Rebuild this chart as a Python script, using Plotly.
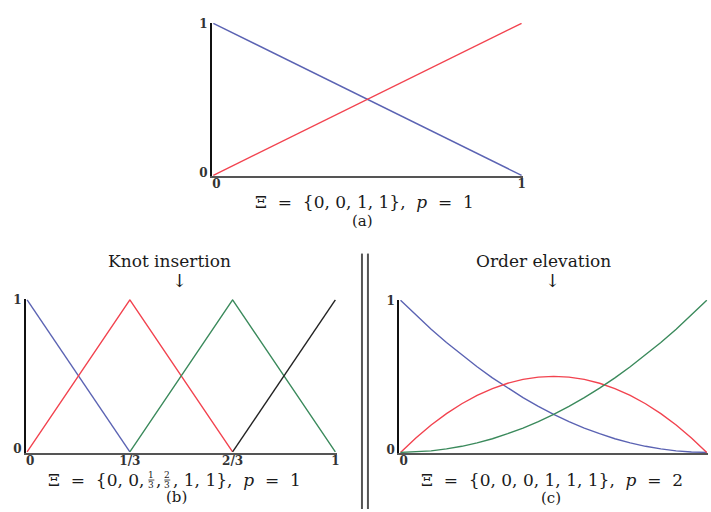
import plotly.graph_objects as go

W, H = 711, 512

# (a) linear basis on the knot vector {0, 0, 1, 1}
a_x = [0, 1]
a_n1 = [1, 0]
a_n2 = [0, 1]

# (b) linear basis after knot insertion at 1/3 and 2/3
b_n1_x, b_n1_y = [0, 1/3], [1, 0]
b_n2_x, b_n2_y = [0, 1/3, 2/3], [0, 1, 0]
b_n3_x, b_n3_y = [1/3, 2/3, 1], [0, 1, 0]
b_n4_x, b_n4_y = [2/3, 1], [0, 1]
b_ticks = [0, 1/3, 2/3, 1]
b_ticktext = ["0", "1/3", "2/3", "1"]

# (c) quadratic basis after order elevation
c_x = [0.00, 0.05, 0.10, 0.15, 0.20, 0.25, 0.30, 0.35, 0.40, 0.45, 0.50,
       0.55, 0.60, 0.65, 0.70, 0.75, 0.80, 0.85, 0.90, 0.95, 1.00]
c_n1 = [1.000, 0.903, 0.810, 0.723, 0.640, 0.563, 0.490, 0.423, 0.360, 0.303, 0.250,
        0.203, 0.160, 0.123, 0.090, 0.063, 0.040, 0.023, 0.010, 0.003, 0.000]
c_n2 = [0.000, 0.095, 0.180, 0.255, 0.320, 0.375, 0.420, 0.455, 0.480, 0.495, 0.500,
        0.495, 0.480, 0.455, 0.420, 0.375, 0.320, 0.255, 0.180, 0.095, 0.000]
c_n3 = [0.000, 0.003, 0.010, 0.023, 0.040, 0.063, 0.090, 0.123, 0.160, 0.203, 0.250,
        0.303, 0.360, 0.423, 0.490, 0.563, 0.640, 0.723, 0.810, 0.903, 1.000]

BLUE = "#5b63b3"
RED = "#f2434f"
GREEN = "#3b8a5c"
BLACK = "#222222"
SERIF = "DejaVu Serif, serif"


def px_x(p):
    return p / W


def px_y(p):
    return 1 - p / H


fig = go.Figure()


def add_line(x, y, color, ax):
    fig.add_trace(go.Scatter(
        x=x, y=y, mode="lines", xaxis=ax[0], yaxis=ax[1],
        line=dict(color=color, width=1.4),
        showlegend=False, hoverinfo="skip"))


add_line(a_x, a_n1, BLUE, ("x", "y"))
add_line(a_x, a_n2, RED, ("x", "y"))

add_line(b_n1_x, b_n1_y, BLUE, ("x2", "y2"))
add_line(b_n2_x, b_n2_y, RED, ("x2", "y2"))
add_line(b_n3_x, b_n3_y, GREEN, ("x2", "y2"))
add_line(b_n4_x, b_n4_y, BLACK, ("x2", "y2"))

add_line(c_x, c_n1, BLUE, ("x3", "y3"))
add_line(c_x, c_n2, RED, ("x3", "y3"))
add_line(c_x, c_n3, GREEN, ("x3", "y3"))

tickfont = dict(family=SERIF, size=12, color="#333333")
pad = 0.004


def xax(dom, anchor, tickvals, ticktext):
    return dict(domain=dom, anchor=anchor, range=[-pad, 1 + pad],
                showgrid=False, zeroline=False, showline=True,
                linecolor="#555555", linewidth=1.6, ticks="", ticklen=0,
                tickvals=tickvals, ticktext=ticktext,
                tickfont=tickfont, ticklabelstandoff=-4, fixedrange=True)


def yax(dom, anchor):
    return dict(domain=dom, anchor=anchor, range=[-pad, 1 + pad],
                showgrid=False, zeroline=False, showline=True,
                linecolor="#111111", linewidth=2, ticks="", ticklen=0,
                tickvals=[0.02, 1], ticktext=["<b>0</b>", "<b>1</b>"],
                tickfont=tickfont, ticklabelstandoff=0, fixedrange=True)


fig.update_layout(
    width=W, height=H,
    margin=dict(l=0, r=0, t=0, b=0),
    paper_bgcolor="white", plot_bgcolor="white",
    xaxis=xax([px_x(213), px_x(525)], "y", [0.01, 1], ["<b>0</b>", "<b>1</b>"]),
    yaxis=yax([px_y(173), px_y(17)], "x"),
    xaxis2=xax([px_x(26), px_x(338)], "y2", [0.01, 1/3, 2/3, 1],
               ["<b>" + t + "</b>" for t in b_ticktext]),
    yaxis2=yax([px_y(454.5), px_y(298.5)], "x2"),
    xaxis3=xax([px_x(401), 1.0], "y3", [0.01], ["<b>0</b>"]),
    yaxis3=yax([px_y(455), px_y(299)], "x3"),
)

capfont = dict(family=SERIF, size=17, color="#1a1a1a")
smallfont = dict(family=SERIF, size=15, color="#1a1a1a")
headfont = dict(family=SERIF, size=17, color="#1a1a1a")
arrowfont = dict(family=SERIF, size=18, color="#1a1a1a")
fracfont = dict(family=SERIF, size=9, color="#1a1a1a")


def text(x, y, s, font, xanchor="center", height=None):
    fig.add_annotation(x=px_x(x), y=px_y(y), xref="paper", yref="paper",
                       text=s, showarrow=False, font=font, height=height,
                       xanchor=xanchor, yanchor="middle", borderpad=0)


# (a) caption
text(366, 200, "Ξ  =  {0, 0, 1, 1},  <i>p</i>  =  1", capfont)
text(364, 219, "(a)", smallfont, height=16)

# (b) heading and caption with stacked fractions
text(170, 260, "Knot insertion", headfont, height=18)
text(180, 279, "↓", arrowfont, height=16)
text(146, 482, "Ξ  =  {0, 0,", capfont, "right")
text(152, 476.5, "1", fracfont, height=9)
text(152, 487.5, "3", fracfont, height=9)
text(159, 482, ",", capfont)
text(168, 476.5, "2", fracfont, height=9)
text(168, 487.5, "3", fracfont, height=9)
text(173, 482, ", 1, 1},  <i>p</i>  =  1", capfont, "left")
text(177, 500, "(b)", smallfont, height=16)

# (c) heading and caption
text(546, 260, "Order elevation", headfont, height=18)
text(555, 279, "↓", arrowfont, height=16)
text(554, 482, "Ξ  =  {0, 0, 0, 1, 1, 1},  <i>p</i>  =  2", capfont)
text(553, 501, "(c)", smallfont, height=16)

# small fraction bars
for cx in (152, 168):
    fig.add_shape(type="line", xref="paper", yref="paper",
                  x0=px_x(cx - 3), x1=px_x(cx + 3),
                  y0=px_y(482.5), y1=px_y(482.5),
                  line=dict(color="#222222", width=0.8))

# double rule separating (b) and (c)
for vx in (363.5, 369.5):
    fig.add_shape(type="line", xref="paper", yref="paper",
                  x0=px_x(vx), x1=px_x(vx), y0=0, y1=px_y(252),
                  line=dict(color="#555555", width=2))

fig.write_html("out.html")
